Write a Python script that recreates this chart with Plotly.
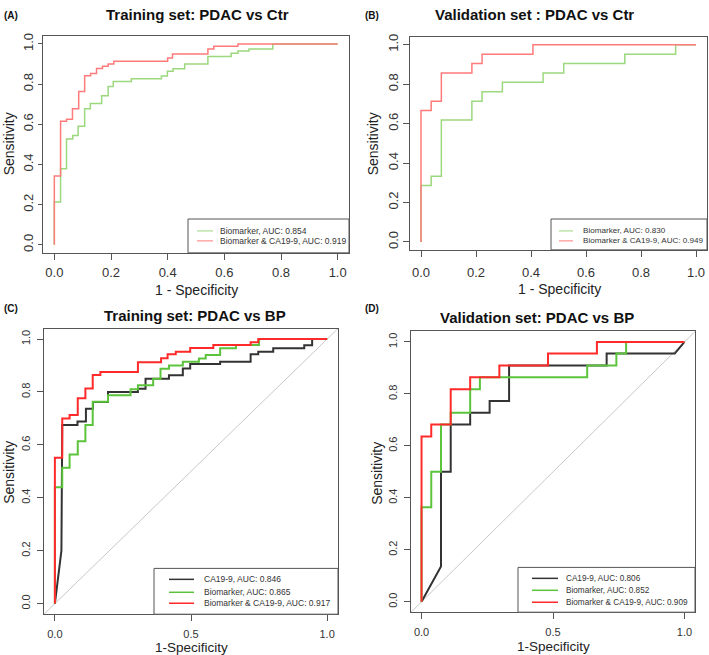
import plotly.graph_objects as go

W, H = 709, 655

# ---------------- DATA ----------------
# Panel A: Training set PDAC vs Ctr  (step tops: fpr, tpr)
A_bio_fpr = [0, 0, 0.022, 0.043, 0.065, 0.084, 0.107, 0.127, 0.167, 0.19, 0.208, 0.272, 0.378, 0.399, 0.419, 0.46, 0.542, 0.624, 0.648, 0.687, 0.771, 1.0]
A_bio_tpr = [0, 0.213, 0.378, 0.527, 0.544, 0.59, 0.677, 0.703, 0.742, 0.788, 0.813, 0.826, 0.84, 0.864, 0.876, 0.90, 0.937, 0.954, 0.964, 0.975, 1.0, 1.0]
A_comb_fpr = [0, 0, 0.022, 0.043, 0.064, 0.086, 0.107, 0.128, 0.149, 0.17, 0.19, 0.21, 0.40, 0.417, 0.542, 0.563, 0.648, 1.0]
A_comb_tpr = [0, 0.342, 0.615, 0.625, 0.677, 0.763, 0.841, 0.852, 0.877, 0.889, 0.90, 0.913, 0.93, 0.95, 0.975, 0.988, 1.0, 1.0]

# Panel B: Validation set PDAC vs Ctr
B_bio_fpr = [0, 0, 0.037, 0.074, 0.185, 0.222, 0.296, 0.444, 0.519, 0.741, 0.926, 1.0]
B_bio_tpr = [0, 0.286, 0.333, 0.619, 0.714, 0.762, 0.810, 0.857, 0.905, 0.952, 1.0, 1.0]
B_comb_fpr = [0, 0, 0.037, 0.074, 0.185, 0.222, 0.407, 1.0]
B_comb_tpr = [0, 0.667, 0.714, 0.857, 0.905, 0.952, 1.0, 1.0]

# Panel C: Training set PDAC vs BP
C_ca_fpr = [0, 0.024, 0.027, 0.083, 0.083, 0.114, 0.114, 0.14, 0.14, 0.195, 0.195, 0.305, 0.305, 0.333, 0.333, 0.419, 0.419, 0.47, 0.47, 0.497, 0.497, 0.607, 0.607, 0.719, 0.719, 0.747, 0.747, 0.802, 0.802, 0.916, 0.916, 0.945, 0.945, 1.0]
C_ca_tpr = [0, 0.2, 0.675, 0.675, 0.688, 0.688, 0.737, 0.737, 0.762, 0.762, 0.80, 0.80, 0.812, 0.812, 0.85, 0.85, 0.863, 0.863, 0.889, 0.889, 0.906, 0.906, 0.914, 0.914, 0.943, 0.943, 0.952, 0.952, 0.965, 0.965, 0.977, 0.977, 1.0, 1.0]
C_bio_fpr = [0, 0, 0.027, 0.054, 0.084, 0.112, 0.139, 0.195, 0.278, 0.305, 0.361, 0.388, 0.419, 0.47, 0.529, 0.554, 0.607, 0.665, 0.75, 1.0]
C_bio_tpr = [0, 0.44, 0.514, 0.564, 0.614, 0.675, 0.763, 0.788, 0.81, 0.825, 0.85, 0.888, 0.90, 0.914, 0.927, 0.94, 0.965, 0.978, 1.0, 1.0]
C_comb_fpr = [0, 0, 0.027, 0.054, 0.084, 0.112, 0.139, 0.167, 0.305, 0.39, 0.414, 0.444, 0.497, 0.582, 0.719, 0.747, 1.0]
C_comb_tpr = [0, 0.551, 0.70, 0.713, 0.776, 0.813, 0.864, 0.876, 0.912, 0.928, 0.943, 0.952, 0.966, 0.978, 0.988, 1.0, 1.0]

# Panel D: Validation set PDAC vs BP
D_ca_fpr = [0, 0.074, 0.074, 0.111, 0.111, 0.185, 0.185, 0.259, 0.259, 0.333, 0.333, 0.704, 0.704, 0.963, 1.0]
D_ca_tpr = [0, 0.136, 0.5, 0.5, 0.682, 0.682, 0.727, 0.727, 0.773, 0.773, 0.909, 0.909, 0.955, 0.955, 1.0]
D_bio_fpr = [0, 0, 0.037, 0.074, 0.111, 0.185, 0.222, 0.630, 0.741, 0.778, 1.0]
D_bio_tpr = [0, 0.364, 0.5, 0.682, 0.727, 0.818, 0.864, 0.909, 0.955, 1.0, 1.0]
D_comb_fpr = [0, 0, 0.037, 0.111, 0.185, 0.296, 0.481, 0.667, 1.0]
D_comb_tpr = [0, 0.636, 0.682, 0.818, 0.864, 0.909, 0.955, 1.0, 1.0]

titles = ["Training set: PDAC vs Ctr", "Validation set : PDAC vs Ctr",
          "Training set: PDAC vs BP", "Validation set: PDAC vs BP"]
panel_tags = ["(A)", "(B)", "(C)", "(D)"]
legend_A = ["Biomarker, AUC: 0.854", "Biomarker & CA19-9, AUC: 0.919"]
legend_B = ["Biomarker, AUC: 0.830", "Biomarker & CA19-9, AUC: 0.949"]
legend_C = ["CA19-9, AUC: 0.846", "Biomarker, AUC: 0.865", "Biomarker & CA19-9, AUC: 0.917"]
legend_D = ["CA19-9, AUC: 0.806", "Biomarker, AUC: 0.852", "Biomarker & CA19-9, AUC: 0.909"]
diag_line = [-0.04, 1.04]

# ---------------- STYLE ----------------
FONT = "Liberation Sans, Arial, sans-serif"
LIGHT_RED, LIGHT_GREEN = "#FF7A7A", "#9BD87E"
RED, GREEN, BLACK = "#FF2A2A", "#5CC43C", "#333333"
FRAME = "#555555"

def px(x):
    return x / W

def py(y):
    return 1 - y / H

# plot boxes in pixels (left, right, top, bottom)
boxes = [(43, 349, 33, 251), (410, 707, 34, 248), (44, 338, 327, 614), (411, 695, 330, 612)]
x_standoff = [2, 5, 4, 4]
y_standoff = [0, 0, 3, 3]
y_ticklen = [4, 6, 6, 6]

fig = go.Figure()

def add(i, x, y, color, width, shape):
    ax = "" if i == 0 else str(i + 1)
    fig.add_trace(go.Scatter(x=x, y=y, mode="lines", line=dict(color=color, width=width, shape=shape),
                             xaxis="x" + ax, yaxis="y" + ax, showlegend=False, hoverinfo="skip"))

# diagonals
add(2, diag_line, diag_line, "#C8C8C8", 1, "linear")
add(3, diag_line, diag_line, "#C8C8C8", 1, "linear")

add(0, A_bio_fpr, A_bio_tpr, LIGHT_GREEN, 1.5, "hv")
add(0, A_comb_fpr, A_comb_tpr, LIGHT_RED, 1.5, "hv")
add(1, B_bio_fpr, B_bio_tpr, LIGHT_GREEN, 1.5, "hv")
add(1, B_comb_fpr, B_comb_tpr, LIGHT_RED, 1.5, "hv")
add(2, C_ca_fpr, C_ca_tpr, BLACK, 2, "linear")
add(2, C_bio_fpr, C_bio_tpr, GREEN, 2, "hv")
add(2, C_comb_fpr, C_comb_tpr, RED, 2, "hv")
add(3, D_ca_fpr, D_ca_tpr, BLACK, 2, "linear")
add(3, D_bio_fpr, D_bio_tpr, GREEN, 2, "hv")
add(3, D_comb_fpr, D_comb_tpr, RED, 2, "hv")

layout = dict(width=W, height=H, margin=dict(l=0, r=0, t=0, b=0), autosize=False,
              paper_bgcolor="white", plot_bgcolor="white", showlegend=False,
              font=dict(family=FONT, color="#333333"))

fine = [0, 0.2, 0.4, 0.6, 0.8, 1.0]
half = [0, 0.5, 1.0]
for i, (l, r, t, b) in enumerate(boxes):
    ax = "" if i == 0 else str(i + 1)
    big = i < 2
    fs = 13 if big else 11
    xt = fine if big else half
    common = dict(range=[-0.04, 1.04], showgrid=False, zeroline=False, showline=True, mirror=True,
                  linecolor=FRAME, linewidth=1, ticks="outside", ticklen=6, tickcolor=FRAME,
                  tickfont=dict(size=fs, color="#333333", family=FONT), fixedrange=True)
    layout["xaxis" + ax] = dict(common, domain=[px(l), px(r)], anchor="y" + ax,
                                tickvals=xt, ticktext=["%.1f" % v for v in xt],
                                ticklabelstandoff=x_standoff[i])
    layout["yaxis" + ax] = dict(common, domain=[py(b), py(t)], anchor="x" + ax,
                                tickvals=fine, ticktext=["%.1f" % v for v in fine], tickangle=-90,
                                ticklabelstandoff=y_standoff[i], ticklen=y_ticklen[i])

fig.update_layout(**layout)

ann = []
shapes = []

def text(x, y, s, size, bold=False, angle=0, xanchor="center", color="#222222"):
    ann.append(dict(x=px(x), y=py(y), xref="paper", yref="paper", text="<b>%s</b>" % s if bold else s,
                    showarrow=False, xanchor=xanchor, yanchor="middle", textangle=angle,
                    font=dict(size=size, family=FONT, color=color)))

# titles and tags
title_pos = [(197, 12), (534, 12), (195, 314), (537, 316)]
tag_pos = [(11, 13), (372, 13), (11, 307), (372, 307)]
for s, (x, y) in zip(titles, title_pos):
    text(x, y, s, 15, bold=True, color="#111111")
for s, (x, y) in zip(panel_tags, tag_pos):
    text(x, y, s, 10, bold=True, color="#111111")

# axis titles
text(9, 142, "Sensitivity", 14, angle=-90)
text(196, 288, "1 - Specificity", 14)
text(373, 141, "Sensitivity", 14, angle=-90)
text(559, 287, "1 - Specificity", 14)
text(9, 472, "Sensitivity", 14, angle=-90)
text(191, 647, "1-Specificity", 13.5)
text(377, 472, "Sensitivity", 14, angle=-90)
text(553, 646, "1-Specificity", 13.5)

# legends
def legend(box, rows, line_x, text_x, labels, colors, lw, fs):
    x0, x1, y0, y1 = box
    shapes.append(dict(type="rect", xref="paper", yref="paper", x0=px(x0), x1=px(x1), y0=py(y1), y1=py(y0),
                       line=dict(color=FRAME, width=1), fillcolor="white"))
    for ry, lab, col in zip(rows, labels, colors):
        shapes.append(dict(type="line", xref="paper", yref="paper", x0=px(line_x[0]), x1=px(line_x[1]),
                           y0=py(ry), y1=py(ry), line=dict(color=col, width=lw)))
        text(text_x, ry, lab, fs, xanchor="left", color="#333333")

legend((188, 349, 217, 251), [229, 239], (197, 213), 218, legend_A, [LIGHT_GREEN, LIGHT_RED], 1, 8.5)
legend((551, 707, 217, 248), [229, 239], (559, 573), 581, legend_B, [LIGHT_GREEN, LIGHT_RED], 1, 8.1)
legend((154, 338, 568, 614), [579, 592, 603], (169, 194), 202, legend_C, [BLACK, GREEN, RED], 1.5, 8.5)
legend((518, 695, 567, 612), [578, 590, 602], (532, 558), 564, legend_D, [BLACK, GREEN, RED], 1.5, 8.2)

fig.update_layout(annotations=ann, shapes=shapes)
fig.write_html("out.html", config={"displayModeBar": False},
               post_script="document.body.style.margin='0';document.body.style.padding='0';document.body.style.overflow='hidden';")
